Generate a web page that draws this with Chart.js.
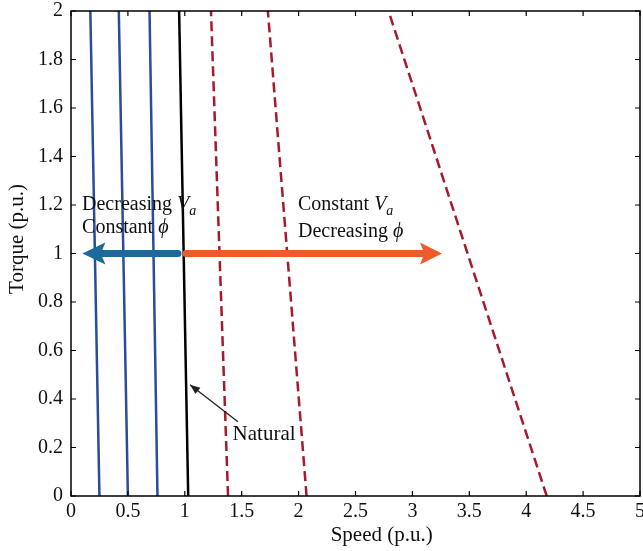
<!DOCTYPE html>
<html><head><meta charset="utf-8">
<script src="https://cdn.jsdelivr.net/npm/chart.js@4/dist/chart.umd.min.js"></script>
<style>html,body{margin:0;padding:0;background:#fff;}#wrap{width:643px;height:551px;}</style>
</head><body><div id="wrap"><canvas id="c" width="643" height="551"></canvas></div>
<script>
// ---- data ----
const torque = [0, 2];
const naturalSpeed = [1.03, 0.95];
const reducedVaSpeed1 = [0.25, 0.17];
const reducedVaSpeed2 = [0.50, 0.42];
const reducedVaSpeed3 = [0.76, 0.69];
const weakFluxSpeed1 = [1.38, 1.23];
const weakFluxSpeed2 = [2.07, 1.73];
const weakFluxSpeed3 = [4.18, 2.79];
const xTickValues = [0, 0.5, 1, 1.5, 2, 2.5, 3, 3.5, 4, 4.5, 5];
const xTickLabels = ['0', '0.5', '1', '1.5', '2', '2.5', '3', '3.5', '4', '4.5', '5'];
const yTickValues = [0, 0.2, 0.4, 0.6, 0.8, 1, 1.2, 1.4, 1.6, 1.8, 2];
const yTickLabels = ['0', '0.2', '0.4', '0.6', '0.8', '1', '1.2', '1.4', '1.6', '1.8', '2'];
const xTitle = 'Speed (p.u.)';
const yTitle = 'Torque (p.u.)';
const arrowTorque = 1;
const decreasingVaArrow = [0.94, 0.1];
const decreasingFluxArrow = [1.01, 3.26];
const naturalPointerFrom = [1.467, 0.306];
const naturalPointerTo = [1.046, 0.459];

// ---- layout / style (not data) ----
const FONT = '"Liberation Serif", "Times New Roman", serif';
const labels = [
  { x: 0.097, y: 1.2, size: 20, parts: [{ t: 'Decreasing ' }, { t: 'V', i: true }, { t: 'a', i: true, sub: true }] },
  { x: 0.097, y: 1.105, size: 20, parts: [{ t: 'Constant ' }, { t: '\u03D5', i: true }] },
  { x: 1.995, y: 1.2, size: 20, parts: [{ t: 'Constant ' }, { t: 'V', i: true }, { t: 'a', i: true, sub: true }] },
  { x: 1.995, y: 1.09, size: 20, parts: [{ t: 'Decreasing ' }, { t: '\u03D5', i: true }] },
  { x: 1.42, y: 0.252, size: 21, parts: [{ t: 'Natural' }] }
];

const pts = (xs, ys) => xs.map((v, k) => ({ x: v, y: ys[k] }));
const BLUE = '#2a4c9c', RED = '#a6192e';

function line(label, xs, color, dash) {
  return { label, data: pts(xs, torque), showLine: true, borderColor: color, borderWidth: 2.5,
    borderDash: dash || [], pointRadius: 0, fill: false, tension: 0 };
}

function drawArrow(ctx, x0, y0, x1, y1, width, headLen, headW, color) {
  const dir = Math.sign(x1 - x0);
  ctx.save();
  ctx.fillStyle = color; ctx.strokeStyle = color;
  ctx.lineWidth = width; ctx.lineCap = 'round';
  ctx.beginPath(); ctx.moveTo(x0, y0); ctx.lineTo(x1 - dir * headLen * 0.8, y1); ctx.stroke();
  ctx.beginPath();
  ctx.moveTo(x1, y1);
  ctx.lineTo(x1 - dir * headLen, y1 - headW / 2);
  ctx.lineTo(x1 - dir * headLen * 0.8, y1);
  ctx.lineTo(x1 - dir * headLen, y1 + headW / 2);
  ctx.closePath(); ctx.fill();
  ctx.restore();
}

function drawRich(ctx, parts, x, y, size) {
  ctx.save();
  ctx.fillStyle = '#111'; ctx.textBaseline = 'middle'; ctx.textAlign = 'left';
  let cx = x;
  for (const p of parts) {
    const s = p.sub ? size * 0.7 : size;
    ctx.font = (p.i ? 'italic ' : '') + s + 'px ' + FONT;
    ctx.fillText(p.t, cx, y + (p.sub ? size * 0.3 : 0));
    cx += ctx.measureText(p.t).width;
  }
  ctx.restore();
}

const overlay = {
  id: 'overlay',
  afterDatasetsDraw(chart) {
    const { ctx, chartArea: a, scales: { x, y } } = chart;
    ctx.save();
    ctx.strokeStyle = '#000'; ctx.lineWidth = 1.5;
    ctx.strokeRect(a.left, a.top, a.right - a.left, a.bottom - a.top);
    ctx.lineWidth = 1.2;
    const tl = 5;
    ctx.beginPath();
    xTickValues.forEach(v => {
      const px = x.getPixelForValue(v);
      ctx.moveTo(px, a.bottom); ctx.lineTo(px, a.bottom - tl);
      ctx.moveTo(px, a.top); ctx.lineTo(px, a.top + tl);
    });
    yTickValues.forEach(v => {
      const py = y.getPixelForValue(v);
      ctx.moveTo(a.left, py); ctx.lineTo(a.left + tl, py);
      ctx.moveTo(a.right, py); ctx.lineTo(a.right - tl, py);
    });
    ctx.stroke();
    ctx.restore();
    const ay = y.getPixelForValue(arrowTorque);
    drawArrow(ctx, x.getPixelForValue(decreasingVaArrow[0]), ay, x.getPixelForValue(decreasingVaArrow[1]), ay, 7, 23, 22, '#1b6a9c');
    drawArrow(ctx, x.getPixelForValue(decreasingFluxArrow[0]), ay, x.getPixelForValue(decreasingFluxArrow[1]), ay, 7, 22, 22, '#ee5b2b');
    const fx = x.getPixelForValue(naturalPointerFrom[0]), fy = y.getPixelForValue(naturalPointerFrom[1]);
    const tx = x.getPixelForValue(naturalPointerTo[0]), ty = y.getPixelForValue(naturalPointerTo[1]);
    ctx.save();
    ctx.strokeStyle = '#222'; ctx.fillStyle = '#222'; ctx.lineWidth = 1.3;
    ctx.beginPath(); ctx.moveTo(fx, fy); ctx.lineTo(tx, ty); ctx.stroke();
    const ang = Math.atan2(ty - fy, tx - fx), hl = 10, hw = 4;
    ctx.beginPath();
    ctx.moveTo(tx, ty);
    ctx.lineTo(tx - hl * Math.cos(ang) + hw * Math.sin(ang), ty - hl * Math.sin(ang) - hw * Math.cos(ang));
    ctx.lineTo(tx - hl * Math.cos(ang) - hw * Math.sin(ang), ty - hl * Math.sin(ang) + hw * Math.cos(ang));
    ctx.closePath(); ctx.fill();
    ctx.restore();
    labels.forEach(l => drawRich(ctx, l.parts, x.getPixelForValue(l.x), y.getPixelForValue(l.y), l.size));
    // axis titles
    ctx.save();
    ctx.fillStyle = '#111'; ctx.font = '21px ' + FONT; ctx.textAlign = 'center'; ctx.textBaseline = 'middle';
    ctx.fillText(xTitle, x.getPixelForValue(2.73), 535);
    ctx.translate(17, y.getPixelForValue(1.06));
    ctx.rotate(-Math.PI / 2);
    ctx.fillText(yTitle, 0, 0);
    ctx.restore();
  }
};

new Chart(document.getElementById('c'), {
  type: 'scatter',
  data: {
    datasets: [
      line('Va 1', reducedVaSpeed1, BLUE),
      line('Va 2', reducedVaSpeed2, BLUE),
      line('Va 3', reducedVaSpeed3, BLUE),
      line('Natural', naturalSpeed, '#000'),
      line('Flux 1', weakFluxSpeed1, RED, [10, 5]),
      line('Flux 2', weakFluxSpeed2, RED, [10, 5]),
      line('Flux 3', weakFluxSpeed3, RED, [10, 5])
    ]
  },
  options: {
    responsive: false, animation: false, devicePixelRatio: 1,
    layout: { padding: { top: 11, right: 3, left: 0, bottom: 0 } },
    plugins: { legend: { display: false }, tooltip: { enabled: false } },
    scales: {
      x: {
        type: 'linear', min: 0, max: 5,
        afterFit: s => { s.height = 55; s.paddingLeft = 0; s.paddingRight = 0; },
        afterBuildTicks: s => { s.ticks = xTickValues.map(v => ({ value: v })); },
        grid: { display: false, drawTicks: false }, border: { display: false },
        ticks: { color: '#111', padding: 4, font: { family: FONT, size: 20 }, maxRotation: 0, autoSkip: false,
          callback: (v, i) => xTickLabels[i] }
      },
      y: {
        type: 'linear', min: 0, max: 2,
        afterFit: s => { s.width = 71; s.paddingTop = 0; s.paddingBottom = 0; },
        afterBuildTicks: s => { s.ticks = yTickValues.map(v => ({ value: v })); },
        grid: { display: false, drawTicks: false }, border: { display: false },
        ticks: { color: '#111', padding: 8, font: { family: FONT, size: 20 }, autoSkip: false,
          callback: (v, i) => yTickLabels[i] }
      }
    }
  },
  plugins: [overlay]
});
</script></body></html>
